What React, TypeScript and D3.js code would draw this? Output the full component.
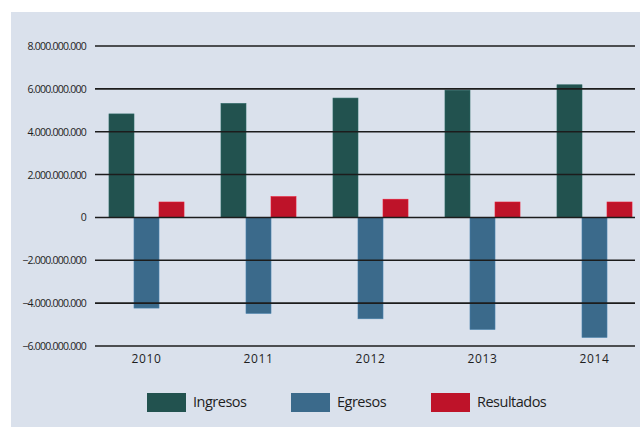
import { useEffect, useRef } from "react";
import * as d3 from "d3";

// data
const years = ["2010", "2011", "2012", "2013", "2014"];
const seriesNames = ["Ingresos", "Egresos", "Resultados"];
const ingresos = [4830000000, 5320000000, 5570000000, 5940000000, 6190000000];
const egresos = [-4230000000, -4480000000, -4730000000, -5230000000, -5600000000];
const resultados = [720000000, 970000000, 850000000, 720000000, 720000000];
const yTicks = [-6000000000, -4000000000, -2000000000, 0, 2000000000, 4000000000, 6000000000, 8000000000];
const colors = ["#22524f", "#3b6a8b", "#be1329"];

const W = 640, H = 427;

const App = () => {
    const ref = useRef<SVGSVGElement>(null);

    useEffect(() => {
        const svg = d3.select(ref.current);
        svg.selectAll("*").remove();

        // background panel
        svg.append("rect")
            .attr("x", 11).attr("y", 12)
            .attr("width", W - 11).attr("height", H - 12)
            .attr("fill", "#dae1ec");

        const y = d3.scaleLinear()
            .domain([-6000000000, 8000000000])
            .range([346, 46]);

        const x = d3.scaleBand()
            .domain(years)
            .range([90.5, 650.5])
            .paddingInner(0.33)
            .paddingOuter(0.165);

        const xs = d3.scaleBand()
            .domain(seriesNames)
            .range([0, x.bandwidth()]);

        const fmt = (v: number) => d3.format(",")(v).replace(/,/g, ".");

        // bars
        const values = [ingresos, egresos, resultados];
        seriesNames.forEach((name, si) => {
            svg.append("g")
                .selectAll("rect")
                .data(values[si])
                .join("rect")
                .attr("x", (_d, i) => (x(years[i]) as number) + (xs(name) as number))
                .attr("y", d => y(Math.max(0, d)))
                .attr("width", xs.bandwidth())
                .attr("height", d => Math.abs(y(d) - y(0)))
                .attr("fill", colors[si])
                .attr("stroke", d3.color(colors[si])!.brighter(0.6).toString())
                .attr("stroke-width", 0.6);
        });

        // gridlines (drawn over bars)
        svg.append("g")
            .selectAll("line")
            .data(yTicks)
            .join("line")
            .attr("x1", 95).attr("x2", 635)
            .attr("y1", d => y(d)).attr("y2", d => y(d))
            .attr("stroke", "#1c1c1c")
            .attr("stroke-width", 1.6);

        // y tick labels
        svg.append("g")
            .selectAll("text")
            .data(yTicks)
            .join("text")
            .attr("x", 86)
            .attr("y", d => y(d) + 4)
            .attr("text-anchor", "end")
            .attr("font-family", "'Open Sans', sans-serif")
            .attr("font-size", 10.5)
            .attr("letter-spacing", -0.75)
            .attr("fill", "#1e1e1e")
            .text(d => fmt(d));

        // x labels
        svg.append("g")
            .selectAll("text")
            .data(years)
            .join("text")
            .attr("x", d => (x(d) as number) + x.bandwidth() / 2)
            .attr("y", 363)
            .attr("text-anchor", "middle")
            .attr("font-family", "'Open Sans', sans-serif")
            .attr("font-size", 12)
            .attr("letter-spacing", 0.6)
            .attr("fill", "#1e1e1e")
            .text(d => d);

        // legend
        const legendX = [147, 291, 431];
        const legend = svg.append("g");
        seriesNames.forEach((name, i) => {
            legend.append("rect")
                .attr("x", legendX[i]).attr("y", 393)
                .attr("width", 39).attr("height", 19)
                .attr("fill", colors[i]);
            legend.append("text")
                .attr("x", legendX[i] + 46)
                .attr("y", 407)
                .attr("font-family", "'Open Sans', sans-serif")
                .attr("font-size", 14.5)
                .attr("letter-spacing", -0.5)
                .attr("fill", "#1e1e1e")
                .text(name);
        });
    }, []);

    return (
        <svg ref={ref} width={W} height={H}
            style={{ position: "absolute", left: 0, top: 0, background: "#fff" }} />
    );
};

export default App;
